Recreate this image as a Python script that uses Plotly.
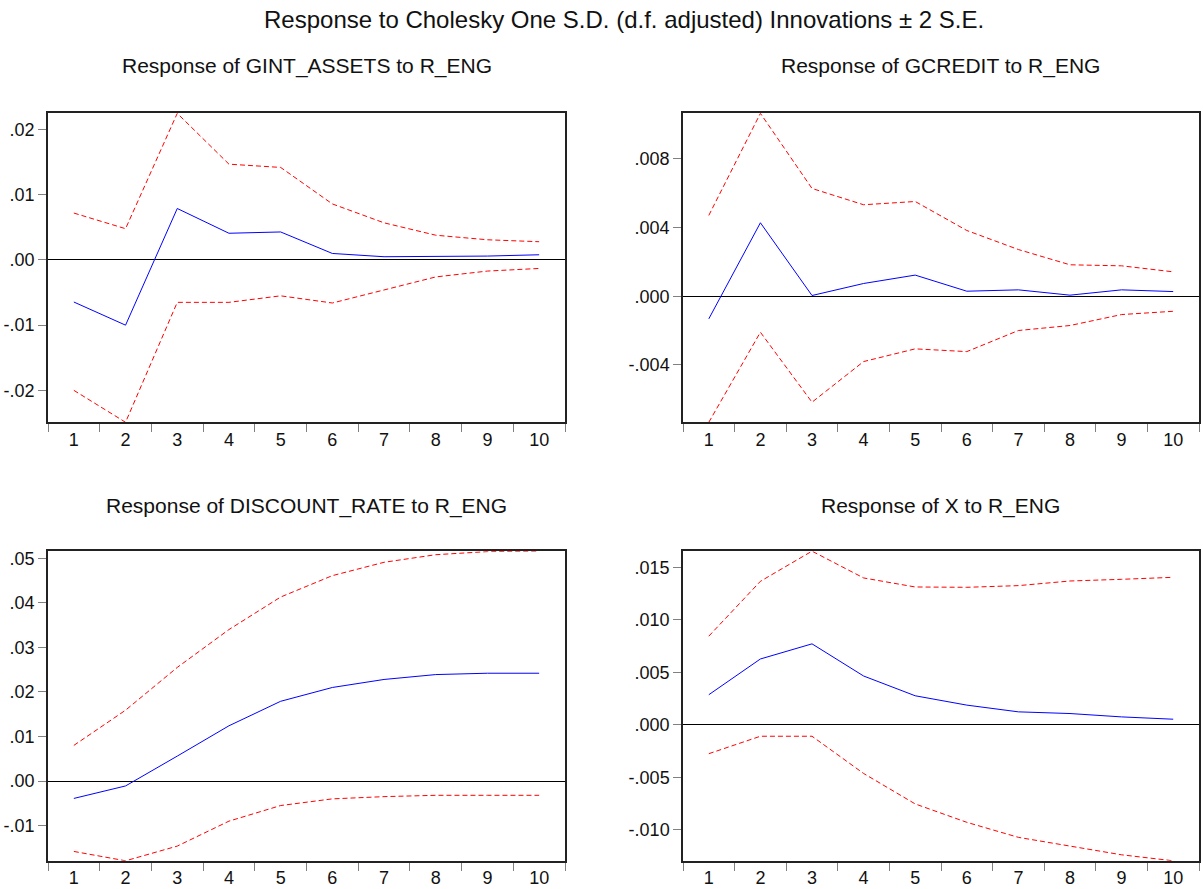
import plotly.graph_objects as go

W, H = 1203, 889

periods = [1, 2, 3, 4, 5, 6, 7, 8, 9, 10]

main_title = "Response to Cholesky One S.D. (d.f. adjusted) Innovations ± 2 S.E."

titles = [
    "Response of GINT_ASSETS to R_ENG",
    "Response of GCREDIT to R_ENG",
    "Response of DISCOUNT_RATE to R_ENG",
    "Response of X to R_ENG",
]

# Panel 1: GINT_ASSETS
gint_resp = [-0.00645, -0.0100, 0.0079, 0.0041, 0.0043, 0.0010, 0.0005, 0.0005, 0.0006, 0.0008]
gint_upper = [0.0072, 0.0048, 0.0225, 0.0147, 0.0142, 0.0086, 0.0057, 0.0038, 0.0031, 0.0028]
gint_lower = [-0.0200, -0.0249, -0.0065, -0.0065, -0.0055, -0.0066, -0.0046, -0.0026, -0.0017, -0.0013]
gint_ticks = [-0.02, -0.01, 0.0, 0.01, 0.02]
gint_ticklabels = ["-.02", "-.01", ".00", ".01", ".02"]

# Panel 2: GCREDIT
gcredit_resp = [-0.00132, 0.00428, 0.00004, 0.00074, 0.00123, 0.00029, 0.00037, 0.00006, 0.00037, 0.00027]
gcredit_upper = [0.00471, 0.01066, 0.00628, 0.00533, 0.00552, 0.00383, 0.00272, 0.00183, 0.00177, 0.00142]
gcredit_lower = [-0.00735, -0.00210, -0.00618, -0.00381, -0.00307, -0.00323, -0.00200, -0.00171, -0.00107, -0.00088]
gcredit_ticks = [-0.004, 0.0, 0.004, 0.008]
gcredit_ticklabels = ["-.004", ".000", ".004", ".008"]

# Panel 3: DISCOUNT_RATE
disc_resp = [-0.0039, -0.0011, 0.0056, 0.0124, 0.0179, 0.0210, 0.0228, 0.0239, 0.0242, 0.0242]
disc_upper = [0.0080, 0.0159, 0.0255, 0.0340, 0.0413, 0.0461, 0.0491, 0.0508, 0.0515, 0.0516]
disc_lower = [-0.0158, -0.0179, -0.0146, -0.0090, -0.0055, -0.0040, -0.0035, -0.0032, -0.0032, -0.0032]
disc_ticks = [-0.01, 0.0, 0.01, 0.02, 0.03, 0.04, 0.05]
disc_ticklabels = ["-.01", ".00", ".01", ".02", ".03", ".04", ".05"]

# Panel 4: X
x_resp = [0.00287, 0.00627, 0.00771, 0.00465, 0.00277, 0.00188, 0.00124, 0.00108, 0.00076, 0.00054]
x_upper = [0.00844, 0.01366, 0.01653, 0.01398, 0.01312, 0.01309, 0.01325, 0.01369, 0.01385, 0.01404]
x_lower = [-0.00274, -0.00108, -0.00108, -0.00462, -0.00752, -0.00927, -0.01070, -0.01150, -0.01236, -0.01293]
x_ticks = [-0.010, -0.005, 0.0, 0.005, 0.010, 0.015]
x_ticklabels = ["-.010", "-.005", ".000", ".005", ".010", ".015"]

panels = [
    (gint_resp, gint_upper, gint_lower, gint_ticks, gint_ticklabels),
    (gcredit_resp, gcredit_upper, gcredit_lower, gcredit_ticks, gcredit_ticklabels),
    (disc_resp, disc_upper, disc_lower, disc_ticks, disc_ticklabels),
    (x_resp, x_upper, x_lower, x_ticks, x_ticklabels),
]

# pixel boxes: (left, right, top, bottom)
boxes = [
    (48, 565, 110.7, 420.7),
    (683, 1199, 110.7, 420.7),
    (48, 565, 550, 860.7),
    (683, 1199, 550, 860.7),
]
title_y = [63, 63, 505, 505]

FONT = "Liberation Sans, Arial, sans-serif"
fig = go.Figure()
cats = [str(p) for p in periods]

for i, (resp, up, lo, tv, tt) in enumerate(panels):
    n = i + 1
    xa = "x" if n == 1 else f"x{n}"
    ya = "y" if n == 1 else f"y{n}"
    for series, color, dash in [(up, "#FF0000", "5px,3px"), (lo, "#FF0000", "5px,3px"), (resp, "#0000FF", "solid")]:
        fig.add_trace(go.Scatter(x=cats, y=series, mode="lines", xaxis=xa, yaxis=ya,
                                 line=dict(color=color, width=1, dash=dash),
                                 showlegend=False, hoverinfo="skip"))
    l, r, t, b = boxes[i]
    ymin = min(lo)
    ymax = max(up)
    xkey = "xaxis" if n == 1 else f"xaxis{n}"
    ykey = "yaxis" if n == 1 else f"yaxis{n}"
    fig.update_layout(**{
        xkey: dict(domain=[l / W, r / W], anchor=ya, type="category",
                   range=[-0.5, len(cats) - 0.5], tickson="boundaries",
                   ticks="outside", ticklen=8, tickcolor="#808080", tickwidth=1,
                   showline=True, linecolor="#222222", linewidth=1.5, mirror=True,
                   showgrid=False, zeroline=False,
                   tickfont=dict(family=FONT, size=18, color="#111111")),
        ykey: dict(domain=[(H - b) / H, (H - t) / H], anchor=xa,
                   range=[ymin, ymax], tickvals=tv, ticktext=tt,
                   ticks="outside", ticklen=8, tickcolor="#808080", tickwidth=1,
                   showline=True, linecolor="#222222", linewidth=1.5, mirror=True,
                   showgrid=False, zeroline=True, zerolinecolor="#000000", zerolinewidth=1,
                   tickfont=dict(family=FONT, size=18, color="#111111")),
    })
    fig.add_annotation(x=(l + r) / 2 / W, y=(H - title_y[i]) / H, xref="paper", yref="paper",
                       text=titles[i], showarrow=False, xanchor="center", yanchor="middle",
                       font=dict(family=FONT, size=21, color="#111111"))

fig.add_annotation(x=(48 + 1199) / 2 / W, y=(H - 17) / H, xref="paper", yref="paper",
                   text=main_title, showarrow=False, xanchor="center", yanchor="middle",
                   font=dict(family=FONT, size=24, color="#111111"))

fig.update_layout(width=W, height=H, margin=dict(l=0, r=0, t=0, b=0),
                  paper_bgcolor="white", plot_bgcolor="white", showlegend=False)

fig.write_html("out.html")
